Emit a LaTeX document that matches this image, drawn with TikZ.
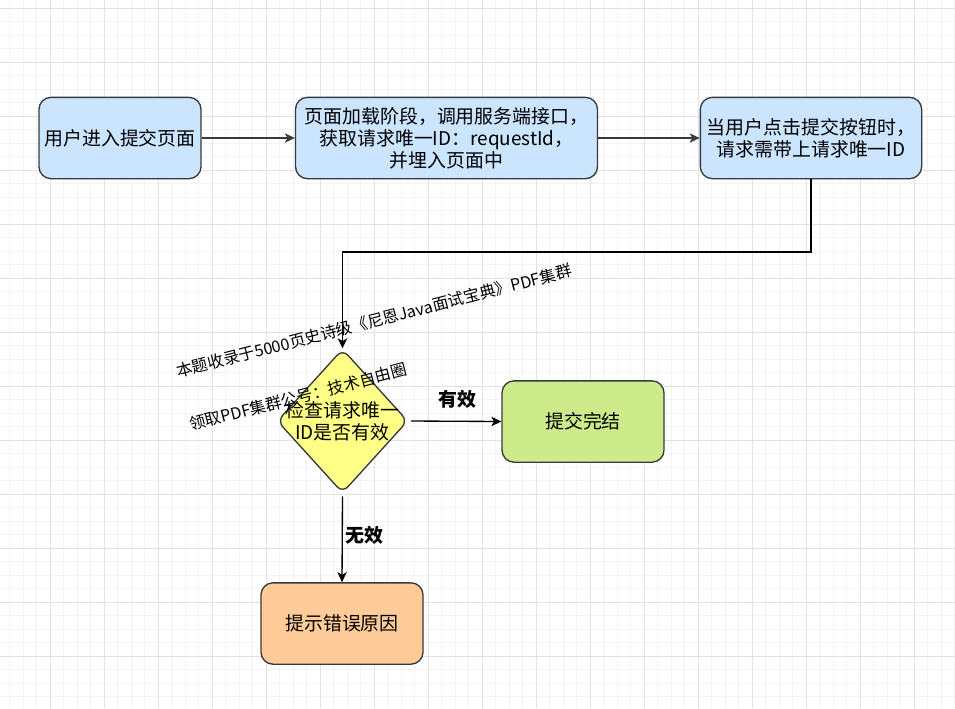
\documentclass[tikz,border=0pt]{standalone}
\usepackage{fontspec}
\setmainfont{Noto Sans CJK SC}
\usepackage{tikz}
\usetikzlibrary{arrows.meta,shapes.geometric}
\usepackage{xcolor}
\definecolor{myblue}{HTML}{CCE5FF}
\definecolor{myyellow}{HTML}{FFFF88}
\definecolor{mygreen}{HTML}{CDEB8B}
\definecolor{myorange}{HTML}{FFCC99}
\definecolor{mystroke}{HTML}{36393D}
\definecolor{mygridminor}{HTML}{F3F3F3}
\definecolor{mygridmajor}{HTML}{E2E2E2}

\tikzset{
  stepbox/.style={draw=mystroke,line width=1pt,rounded corners=9pt,align=center,
    font=\fontsize{14.2}{16.6}\selectfont,minimum width=121.5pt,minimum height=61pt,inner sep=0pt},
  checkbox/.style={shape=diamond,draw=mystroke,line width=1pt,rounded corners=6pt,fill=myyellow,
    minimum width=98pt,minimum height=108pt,inner sep=0pt},
  flowtext/.style={align=center,font=\fontsize{14.2}{16.6}\selectfont,inner sep=0pt},
  flowlabel/.style={font=\fontsize{14.2}{16.6}\selectfont\bfseries,inner sep=0pt},
  flowarrow/.style={line width=1pt,-{Stealth[length=7.5pt,width=7pt,inset=2pt]}},
  marktext/.style={font=\fontsize{12.1}{14}\selectfont,inner sep=0pt,rotate=14.5}
}

\begin{document}
\begin{tikzpicture}[x=0.75pt,y=-0.75pt]
    \useasboundingbox (0,0) rectangle (955,708);
    \fill[white] (0,0) rectangle (955,708);
    % grid
    \begin{scope}
      \clip (0,0) rectangle (955,708);
      \foreach \i in {0,...,71}
        \draw[mygridminor,line width=0.75pt] (-4+13.5*\i,0) -- ++(0,708);
      \foreach \j in {0,...,53}
        \draw[mygridminor,line width=0.75pt] (0,-5.5+13.5*\j) -- ++(955,0);
      \foreach \i in {0,...,18}
        \draw[mygridmajor,line width=0.75pt] (-4+54*\i,0) -- ++(0,708);
      \foreach \j in {0,...,13}
        \draw[mygridmajor,line width=0.75pt] (0,8+54*\j) -- ++(955,0);
    \end{scope}

    % nodes
    \node[stepbox,fill=myblue] (enter) at (120,138) {用户进入提交页面};
    \node[stepbox,fill=myblue,minimum width=226.5pt] (load) at (446.5,138)
      {页面加载阶段，调用服务端接口，\\获取请求唯一ID：requestId，\\并埋入页面中};
    \node[stepbox,fill=myblue,minimum width=166pt] (submit) at (811,138)
      {当用户点击提交按钮时，\\请求需带上请求唯一ID};
    \node[checkbox] (check) at (342.5,421) {};
    \node[flowtext] (checktext) at (check.center) {检查请求唯一\\ID是否有效};
    \node[stepbox,fill=mygreen] (done) at (583,421.5) {提交完结};
    \node[stepbox,fill=myorange] (error) at (342,623.5) {提示错误原因};

    % connectors
    \draw[flowarrow,mystroke] (enter) -- (load);
    \draw[flowarrow,mystroke] (load) -- (submit);
    \coordinate (bend) at (811,252);
    \draw[flowarrow,black] (submit.south) -- (bend) -| (check.north);
    \draw[flowarrow,black] ([xshift=2pt]check.east) -- (done.west);
    \draw[flowarrow,black] ([yshift=-2pt]check.south) -- (error.north);
    \node[flowlabel] (validlabel) at (457,399) {有效};
    \node[flowlabel] (invalidlabel) at (364,535) {无效};

    % watermark
    \node[marktext] (markone) at (374,321) {本题收录于5000页史诗级《尼恩Java面试宝典》PDF集群};
    \node[marktext] (marktwo) at (298,397) {领取PDF集群公号：技术自由圈};
\end{tikzpicture}
\end{document}
